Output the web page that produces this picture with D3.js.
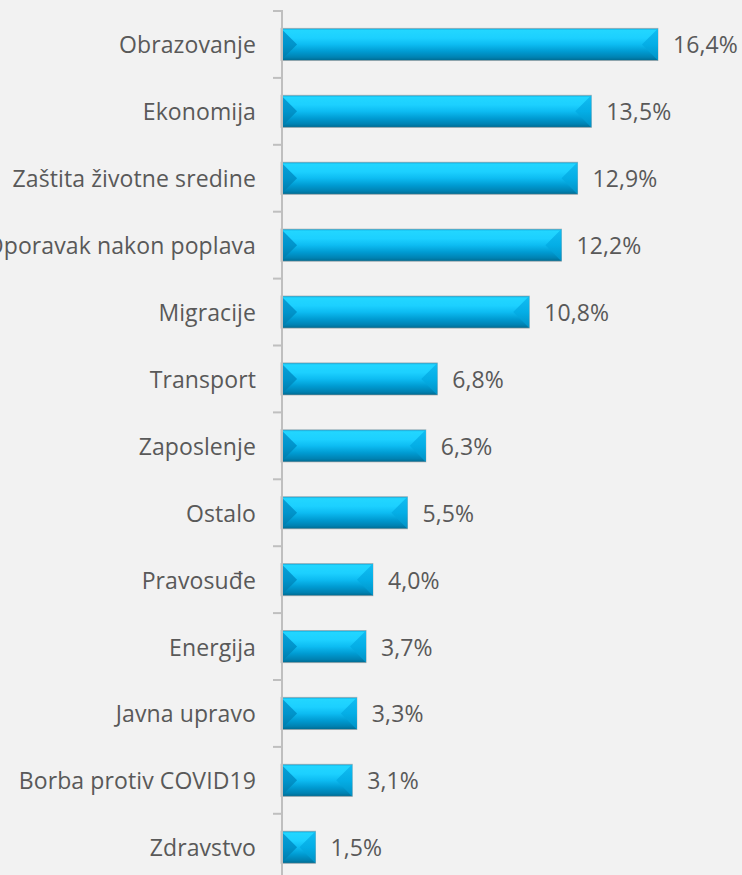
<!DOCTYPE html>
<html>
<head>
<meta charset="utf-8">
<script src="https://cdn.jsdelivr.net/npm/d3@7"></script>
<style>
  html, body { margin: 0; padding: 0; background: #f2f2f2; }
  svg { display: block; }
</style>
</head>
<body>
<svg id="chart" width="742" height="875"></svg>
<script>
const categories = ["Obrazovanje", "Ekonomija", "Zaštita životne sredine", "Oporavak nakon poplava",
  "Migracije", "Transport", "Zaposlenje", "Ostalo", "Pravosuđe", "Energija", "Javna upravo",
  "Borba protiv COVID19", "Zdravstvo"];
const values = [16.4, 13.5, 12.9, 12.2, 10.8, 6.8, 6.3, 5.5, 4.0, 3.7, 3.3, 3.1, 1.5];
const valueLabels = ["16,4%", "13,5%", "12,9%", "12,2%", "10,8%", "6,8%", "6,3%", "5,5%", "4,0%", "3,7%", "3,3%", "3,1%", "1,5%"];

const data = categories.map((c, i) => ({ cat: c, value: values[i], label: valueLabels[i] }));

const W = 742, H = 875;
const svg = d3.select("#chart");
svg.append("rect").attr("width", W).attr("height", H).attr("fill", "#f2f2f2");

const font = "'Open Sans', 'Noto Sans', sans-serif";
const textColor = "#595959";
const fontSize = 23;
const letterSpacing = 0.1;

const y = d3.scaleBand().domain(categories).range([11, 11 + 13 * 66.9]).paddingInner(0.52).paddingOuter(0.26);
const x = d3.scaleLinear().domain([0, 16.4]).range([281, 658]);

const defs = svg.append("defs");
const gMain = defs.append("linearGradient").attr("id", "gMain").attr("x1", 0).attr("y1", 0).attr("x2", 0).attr("y2", 1);
[["0%", "#0aa6dc"], ["6%", "#22d6ff"], ["30%", "#1cd0ff"], ["50%", "#0dbcf2"], ["72%", "#009bd2"], ["90%", "#0082b2"], ["100%", "#006a90"]]
  .forEach(([o, c]) => gMain.append("stop").attr("offset", o).attr("stop-color", c));
const gLeft = defs.append("linearGradient").attr("id", "gLeft").attr("x1", 0).attr("y1", 0).attr("x2", 0).attr("y2", 1);
[["0%", "#0aa0d8"], ["50%", "#0094cb"], ["100%", "#0078a6"]]
  .forEach(([o, c]) => gLeft.append("stop").attr("offset", o).attr("stop-color", c));
const gRight = defs.append("linearGradient").attr("id", "gRight").attr("x1", 0).attr("y1", 0).attr("x2", 0).attr("y2", 1);
[["0%", "#12bdf2"], ["50%", "#04aee6"], ["100%", "#0090c4"]]
  .forEach(([o, c]) => gRight.append("stop").attr("offset", o).attr("stop-color", c));

const bars = svg.append("g").selectAll("g").data(data).join("g");
const bw = y.bandwidth();

bars.append("rect")
  .attr("x", x(0)).attr("y", d => y(d.cat))
  .attr("width", d => x(d.value) - x(0)).attr("height", bw)
  .attr("fill", "url(#gMain)")
  .attr("stroke", "rgba(160,160,160,0.6)").attr("stroke-width", 1);

bars.append("path")
  .attr("fill", "url(#gLeft)")
  .attr("d", d => {
    const x0 = x(0), y0 = y(d.cat), b = bw / 2;
    return `M${x0},${y0}L${x0 + b},${y0 + b}L${x0},${y0 + bw}Z`;
  });
bars.append("path")
  .attr("fill", "url(#gRight)")
  .attr("d", d => {
    const x1 = x(d.value), y0 = y(d.cat), b = bw / 2;
    return `M${x1},${y0}L${x1 - b},${y0 + b}L${x1},${y0 + bw}Z`;
  });

bars.append("text")
  .attr("x", d => x(d.value) + 15)
  .attr("y", d => y(d.cat) + bw / 2 + 9)
  .attr("font-family", font).attr("font-size", fontSize).attr("letter-spacing", letterSpacing)
  .attr("fill", textColor)
  .text(d => d.label);

// Category axis
const axisX = 282;
const step = y.step();
const r0 = y.range()[0];
const axisG = svg.append("g");
axisG.append("line")
  .attr("x1", axisX).attr("x2", axisX).attr("y1", r0).attr("y2", H + 10)
  .attr("stroke", "#bfbfbf").attr("stroke-width", 2);
axisG.selectAll("line.tick").data(d3.range(categories.length + 1)).join("line")
  .attr("class", "tick")
  .attr("x1", 273).attr("x2", axisX + 1)
  .attr("y1", i => r0 + i * step).attr("y2", i => r0 + i * step)
  .attr("stroke", "#bfbfbf").attr("stroke-width", 2);

axisG.selectAll("text").data(categories).join("text")
  .attr("x", 256)
  .attr("y", c => y(c) + bw / 2 + 9)
  .attr("text-anchor", "end")
  .attr("font-family", font).attr("font-size", fontSize).attr("letter-spacing", letterSpacing)
  .attr("fill", textColor)
  .text(c => c);
</script>
</body>
</html>
